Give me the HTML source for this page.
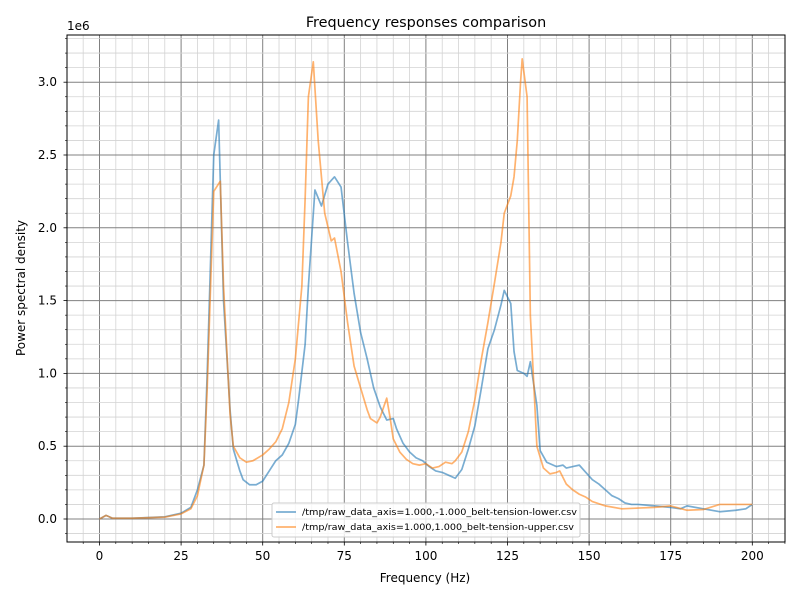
<!DOCTYPE html>
<html><head><meta charset="utf-8"><style>
body{margin:0;background:#fff}
svg{font-family:"DejaVu Sans","Liberation Sans",sans-serif}
</style></head><body>
<svg id="s" width="800" height="600" viewBox="0 0 800 600" xmlns="http://www.w3.org/2000/svg">
<rect width="800" height="600" fill="#fff"/>
<g id="grid"></g>
<g id="series" fill="none" stroke-width="1.7" stroke-linejoin="round"></g>
<rect x="67" y="35" width="718" height="507" fill="none" stroke="#000" stroke-width="1"/>
<g id="ticks" stroke="#000"></g>
<g font-size="12" fill="#000" text-anchor="middle">
<text x="99.5" y="560">0</text><text x="181" y="560">25</text><text x="262.7" y="560">50</text>
<text x="344.3" y="560">75</text><text x="425.9" y="560">100</text><text x="507.5" y="560">125</text>
<text x="589.1" y="560">150</text><text x="670.7" y="560">175</text><text x="752.3" y="560">200</text>
<text x="425" y="582">Frequency (Hz)</text>
<text x="426" y="27" font-size="14.4">Frequency responses comparison</text>
</g>
<g font-size="12" fill="#000" text-anchor="end">
<text x="57" y="523">0.0</text><text x="57" y="450.2">0.5</text><text x="57" y="377.4">1.0</text>
<text x="57" y="304.6">1.5</text><text x="57" y="231.8">2.0</text><text x="57" y="159">2.5</text>
<text x="57" y="86.2">3.0</text>
</g>
<text x="67" y="30" font-size="12">1e6</text>
<text transform="translate(25,288) rotate(-90)" font-size="12" text-anchor="middle">Power spectral density</text>
<rect x="272" y="503" width="308" height="34" rx="2" fill="#fff" fill-opacity="0.8" stroke="#ccc"/>
<line x1="276" y1="512" x2="296" y2="512" stroke="#1f77b4" stroke-opacity="0.6" stroke-width="1.7"/>
<line x1="276" y1="527" x2="296" y2="527" stroke="#ff7f0e" stroke-opacity="0.6" stroke-width="1.7"/>
<g font-size="8.8" fill="#000"><text x="302" y="515" textLength="275" lengthAdjust="spacingAndGlyphs">/tmp/raw_data_axis=1.000,-1.000_belt-tension-lower.csv</text>
<text x="302" y="530" textLength="272" lengthAdjust="spacingAndGlyphs">/tmp/raw_data_axis=1.000,1.000_belt-tension-upper.csv</text></g>
</svg>
<script>
const X=f=>99.5+f*3.264, Y=v=>519-v*145.6, NS="http://www.w3.org/2000/svg";
function el(p,t,a){const e=document.createElementNS(NS,t);for(const k in a)e.setAttribute(k,a[k]);document.getElementById(p).appendChild(e);}
for(let f=-10;f<=210;f+=5){const x=X(f);if(x<67||x>785)continue;const maj=f%25==0;
 el('grid','line',{x1:x,x2:x,y1:35,y2:542,stroke:maj?'#808080':'#d3d3d3','stroke-width':maj?1:0.8});
 el('ticks','line',{x1:x,x2:x,y1:542,y2:maj?545.5:544,'stroke-width':maj?0.8:0.6});}
for(let i=-2;i<=33;i++){const v=i/10,y=Y(v);if(y<35||y>542)continue;const maj=i%5==0;
 el('grid','line',{x1:67,x2:785,y1:y,y2:y,stroke:maj?'#808080':'#d3d3d3','stroke-width':maj?1:0.8});
 el('ticks','line',{x1:67,x2:maj?63.5:65,y1:y,y2:y,'stroke-width':maj?0.8:0.6});}
const B=[[0,0],[2,.025],[4,.005],[10,.005],[20,.015],[25,.04],[28,.08],[30,.2],[32,.37],[33,1],[35,2.5],[36.5,2.74],[38,1.5],[40,.75],[41,.48],[43,.33],[44,.27],[46,.235],[48,.235],[50,.26],[52,.33],[54,.4],[56,.44],[58,.52],[60,.65],[61,.82],[63,1.2],[64,1.6],[66,2.26],[68,2.15],[70,2.3],[72,2.35],[74,2.28],[76,1.9],[78,1.55],[80,1.28],[82,1.1],[84,.9],[86,.77],[88,.68],[90,.69],[91,.62],[93,.52],[95,.46],[97,.42],[99,.4],[101,.36],[103,.33],[105,.32],[107,.3],[109,.28],[111,.34],[113,.48],[115,.64],[117,.9],[119,1.17],[121,1.3],[123,1.47],[124,1.57],[126,1.48],[127,1.15],[128,1.02],[130,1],[131,.98],[132,1.08],[134,.78],[135,.47],[137,.39],[139,.37],[140,.36],[142,.37],[143,.35],[145,.36],[147,.37],[149,.32],[151,.27],[153,.24],[155,.2],[157,.16],[159,.14],[161,.11],[163,.1],[165,.1],[170,.09],[175,.08],[178,.07],[180,.09],[185,.07],[190,.05],[195,.06],[198,.07],[200,.1]];
const O=[[0,0],[2,.025],[4,.005],[10,.005],[20,.013],[25,.035],[28,.07],[30,.16],[32,.37],[33,.9],[35,2.25],[37,2.32],[38,1.6],[40,.72],[41,.5],[43,.42],[45,.39],[47,.4],[50,.44],[52,.48],[54,.53],[56,.62],[58,.8],[60,1.1],[62,1.6],[63,2.2],[64,2.9],[65.5,3.14],[67,2.6],[69,2.1],[71,1.91],[72,1.93],[74,1.7],[76,1.35],[78,1.05],[80,.9],[82,.75],[83,.69],[85,.66],[86,.7],[88,.83],[89,.7],[90,.55],[92,.46],[94,.41],[96,.38],[98,.37],[100,.38],[102,.35],[104,.36],[106,.39],[108,.38],[109,.4],[111,.46],[113,.6],[115,.82],[117,1.1],[119,1.35],[121,1.62],[123,1.9],[124,2.1],[126,2.22],[127,2.35],[128,2.6],[129,3],[129.5,3.16],[131,2.9],[132,1.4],[134,.5],[136,.35],[138,.31],[140,.32],[141,.33],[143,.24],[145,.2],[147,.17],[149,.15],[151,.12],[155,.09],[160,.07],[165,.075],[170,.08],[175,.09],[180,.06],[185,.065],[190,.1],[195,.1],[200,.1]];
el('series','polyline',{points:B.map(p=>X(p[0])+','+Y(p[1])).join(' '),stroke:'#1f77b4','stroke-opacity':0.6});
el('series','polyline',{points:O.map(p=>X(p[0])+','+Y(p[1])).join(' '),stroke:'#ff7f0e','stroke-opacity':0.6});
</script>
</body></html>
